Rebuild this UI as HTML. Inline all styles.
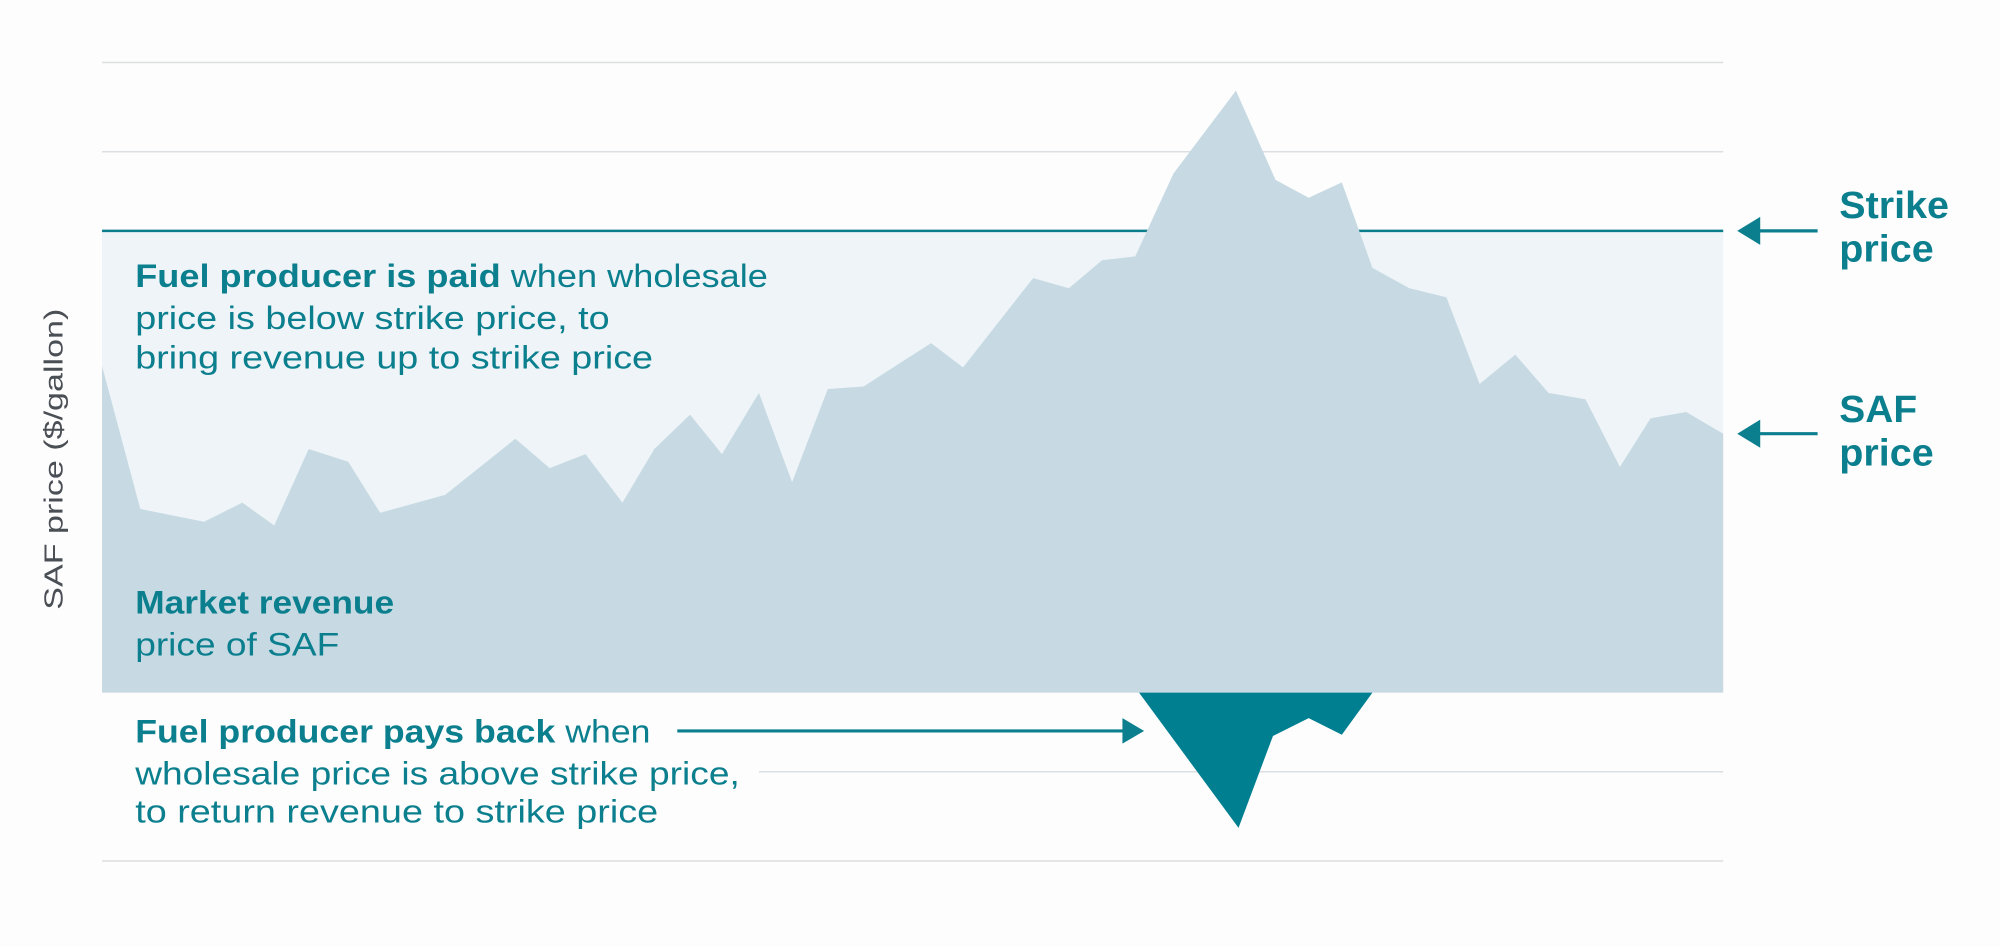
<!DOCTYPE html>
<html><head><meta charset="utf-8"><style>
html,body{margin:0;padding:0;background:#fff;}
svg{display:block;}
text{font-family:"Liberation Sans",sans-serif;}
</style></head><body>
<svg width="2000" height="947" viewBox="0 0 1568 742.4" preserveAspectRatio="none" xmlns="http://www.w3.org/2000/svg">
<rect width="1568" height="742.4" fill="#fdfdfd"/>
<g stroke="#dcdfe1" stroke-width="1.2">
<line x1="80" y1="49" x2="1351" y2="49"/>
<line x1="80" y1="119" x2="1351" y2="119"/>
<line x1="595" y1="605" x2="1351" y2="605"/>
<line x1="80" y1="675" x2="1351" y2="675"/>
</g>
<rect x="80" y="181" width="1271" height="362" fill="#eef4f7"/>
<line x1="80" y1="181" x2="1351" y2="181" stroke="#0b7d8c" stroke-width="2"/>
<polygon fill="#c7dae3" points="80,543 80,287 110,399 160,409 190,394 215,412 242,352 273,362 298,402 349,388 404,344 431,367 459,356 488,394 513,352 541,325 566,356 595,308 621,378 649,305 677,303 730,269 755,288 810,218 838,226 864,204 890,201 920,136 969,71 1000,141 1026,155 1052,143 1076,210 1105,226 1134,233 1160,301 1188,278 1214,308 1243,313 1270,366 1294,328 1322,323 1351,340 1351,543"/>
<polygon fill="#007f91" points="893,543 971,649 998,577 1026,563 1052,576 1076,543"/>
<g fill="#0b7f8e" font-size="25.5">
<text x="106" y="225" textLength="496" lengthAdjust="spacingAndGlyphs"><tspan font-weight="bold">Fuel producer is paid</tspan> when wholesale</text>
<text x="106" y="258" textLength="372" lengthAdjust="spacingAndGlyphs">price is below strike price, to</text>
<text x="106" y="289" textLength="406" lengthAdjust="spacingAndGlyphs">bring revenue up to strike price</text>
<text x="106" y="481" font-weight="bold" textLength="203" lengthAdjust="spacingAndGlyphs">Market revenue</text>
<text x="106" y="514" textLength="160" lengthAdjust="spacingAndGlyphs">price of SAF</text>
<text x="106" y="582" textLength="404" lengthAdjust="spacingAndGlyphs"><tspan font-weight="bold">Fuel producer pays back</tspan> when</text>
<text x="106" y="615" textLength="474" lengthAdjust="spacingAndGlyphs">wholesale price is above strike price,</text>
<text x="106" y="645" textLength="410" lengthAdjust="spacingAndGlyphs">to return revenue to strike price</text>
</g>
<g fill="#0b7f8e" font-size="30" font-weight="bold">
<text x="1442" y="171" textLength="86" lengthAdjust="spacingAndGlyphs">Strike</text>
<text x="1442" y="205" textLength="74" lengthAdjust="spacingAndGlyphs">price</text>
<text x="1442" y="331" textLength="61" lengthAdjust="spacingAndGlyphs">SAF</text>
<text x="1442" y="365" textLength="74" lengthAdjust="spacingAndGlyphs">price</text>
</g>
<g stroke="#0b7f8e" stroke-width="2.5" fill="#0b7f8e">
<line x1="531" y1="573" x2="885" y2="573"/>
<polygon points="897,573 880,563 880,583" stroke="none"/>
<line x1="1372" y1="181" x2="1425" y2="181"/>
<polygon points="1362,181 1380,170 1380,192" stroke="none"/>
<line x1="1372" y1="340" x2="1425" y2="340"/>
<polygon points="1362,340 1380,329 1380,351" stroke="none"/>
</g>
<text transform="translate(49,360) rotate(-90)" text-anchor="middle" fill="#4a4f55" font-size="20" textLength="236" lengthAdjust="spacingAndGlyphs">SAF price ($/gallon)</text>
</svg>
</body></html>
